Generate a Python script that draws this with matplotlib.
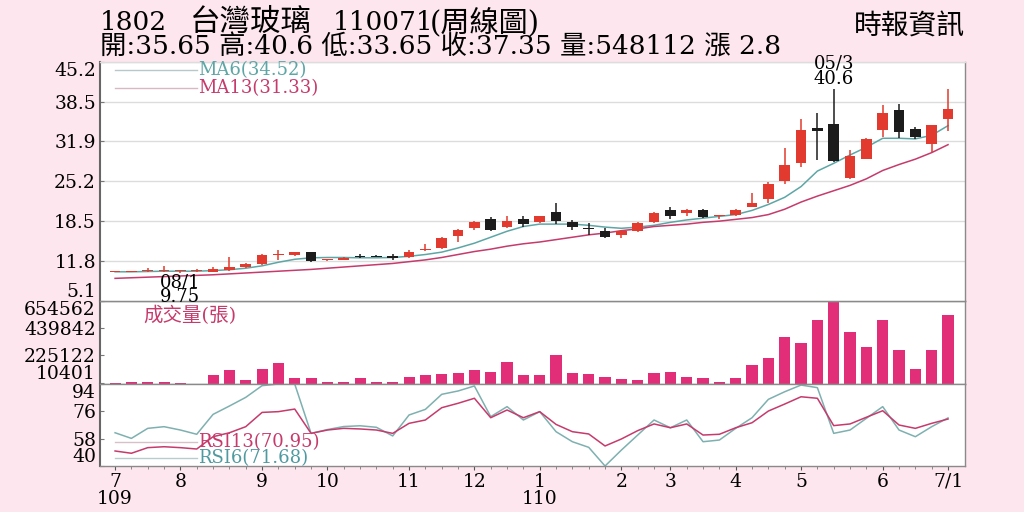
import numpy as np
import matplotlib.pyplot as plt

plt.rcParams['font.family'] = ['DejaVu Serif', 'Noto Sans CJK TC', 'DejaVu Sans']

# weekly candles, 2020/07 .. 2021/07/01
opens = [10.0, 10.0, 10.1, 10.2, 10.1, 10.1, 10.0, 10.3, 10.8, 11.3, 12.8, 12.8, 13.3,
         11.9, 12.0, 12.5, 12.6, 12.6, 12.5, 13.6, 14.0, 16.0, 17.3, 18.9, 17.5, 18.8,
         18.4, 20.0, 18.3, 17.4, 16.9, 16.1, 16.9, 18.4, 20.3, 19.8, 20.4, 19.3, 19.5,
         20.9, 22.2, 25.3, 28.2, 34.2, 34.8, 25.8, 29.0, 33.8, 37.1, 33.9, 31.5, 35.65]
highs = [10.2, 10.2, 10.6, 10.9, 10.3, 10.5, 10.8, 12.5, 11.5, 13.0, 13.7, 13.4, 13.4,
         12.2, 12.4, 13.0, 12.8, 13.0, 13.6, 14.6, 15.8, 17.1, 18.5, 19.2, 19.3, 19.4,
         19.4, 21.5, 18.7, 18.2, 17.4, 17.0, 18.4, 20.1, 20.9, 20.5, 20.6, 19.6, 20.6,
         23.3, 25.0, 30.7, 35.6, 36.7, 40.6, 30.5, 32.4, 38.0, 38.1, 34.3, 34.6, 40.6]
lows = [9.9, 9.9, 10.0, 10.0, 9.75, 9.9, 9.9, 10.1, 10.6, 11.1, 12.0, 12.7, 11.6,
        11.8, 11.9, 12.3, 12.4, 12.0, 12.3, 13.5, 13.9, 15.0, 17.0, 16.8, 17.3, 17.5,
        18.2, 18.1, 17.0, 16.1, 15.7, 15.7, 16.7, 18.2, 18.9, 19.4, 19.0, 18.9, 19.3,
        20.8, 21.5, 24.7, 27.5, 28.7, 28.5, 25.6, 28.9, 32.6, 32.4, 32.3, 30.1, 33.65]
closes = [10.05, 10.1, 10.3, 10.2, 10.1, 10.15, 10.4, 10.8, 11.3, 12.8, 12.85, 13.3, 11.8,
          12.1, 12.3, 12.45, 12.55, 12.3, 13.4, 13.9, 15.7, 17.0, 18.4, 17.0, 18.6, 18.1,
          19.3, 18.5, 17.6, 17.2, 15.8, 16.8, 18.2, 19.9, 19.4, 20.3, 19.2, 19.4, 20.3,
          21.5, 24.7, 27.9, 33.8, 33.7, 28.6, 29.5, 32.3, 36.7, 33.5, 32.6, 34.55, 37.35]
ma6 = [10.0, 10.0, 10.05, 10.1, 10.1, 10.1, 10.2, 10.35, 10.6, 11.0, 11.6, 12.1, 12.35,
       12.4, 12.4, 12.35, 12.35, 12.4, 12.6, 12.9, 13.3, 14.0, 14.8, 15.8, 16.8, 17.6,
       18.0, 18.0, 18.0, 17.8, 17.5, 17.3, 17.5, 17.8, 18.3, 18.7, 19.0, 19.3, 19.6,
       20.3, 21.3, 22.5, 24.3, 26.9, 28.2, 29.6, 30.9, 32.4, 32.4, 32.3, 32.9, 34.52]
ma13 = [8.9, 9.0, 9.1, 9.2, 9.3, 9.4, 9.5, 9.65, 9.8, 9.95, 10.1, 10.25, 10.4,
        10.6, 10.8, 11.0, 11.2, 11.4, 11.7, 12.0, 12.4, 12.9, 13.4, 13.8, 14.3, 14.7,
        15.0, 15.4, 15.8, 16.2, 16.5, 16.9, 17.2, 17.6, 17.8, 18.0, 18.3, 18.5, 18.8,
        19.1, 19.6, 20.5, 21.7, 22.7, 23.6, 24.5, 25.6, 27.0, 28.0, 28.9, 30.0, 31.33]
volume = [5000, 13000, 19000, 19000, 5000, 3000, 74000, 109000, 32000, 122000, 165000, 51000, 51000,
          13000, 13000, 51000, 13000, 19000, 53000, 69000, 77000, 90000, 112000, 96000, 175000, 69000,
          69000, 229000, 90000, 75000, 53000, 37000, 35000, 85000, 96000, 59000, 48000, 19000, 51000,
          152000, 205000, 373000, 322000, 508000, 654562, 413000, 293000, 503000, 266000, 120000, 266000, 548112]
rsi6 = [61.9, 58.2, 64.8, 65.9, 63.7, 60.9, 74.0, 79.5, 85.2, 92.9, 94.0, 94.0, 61.5,
        64.0, 66.0, 66.5, 65.5, 59.8, 73.6, 77.3, 87.2, 89.4, 92.7, 72.5, 79.1, 70.3,
        75.8, 62.6, 56.0, 52.3, 40.0, 50.5, 60.4, 70.3, 65.2, 70.3, 56.0, 57.1, 64.8,
        71.8, 83.9, 88.9, 93.3, 91.6, 61.5, 63.7, 71.4, 79.1, 63.7, 59.3, 65.9, 71.68]
rsi13 = [49.9, 48.4, 52.1, 52.7, 52.1, 51.2, 59.3, 61.9, 65.9, 75.3, 75.8, 77.5, 61.5,
         63.7, 64.8, 64.4, 63.7, 61.5, 68.1, 70.3, 78.4, 81.3, 84.6, 71.8, 76.9, 71.8,
         75.8, 67.4, 62.6, 61.1, 53.2, 57.8, 63.3, 67.7, 65.2, 67.7, 60.4, 60.9, 65.2,
         68.5, 76.2, 80.8, 85.6, 84.6, 66.6, 67.7, 72.1, 76.4, 67.0, 64.8, 68.1, 70.95]

month_idx = [0, 4, 9, 13, 18, 22, 26, 31, 34, 38, 42, 47, 51]
month_labels = ['7\n109', '8', '9', '10', '11', '12', '1\n110', '2', '3', '4', '5', '6', '7/1']
price_ticks = [5.1, 11.8, 18.5, 25.2, 31.9, 38.5, 45.2]
vol_ticks = [10401, 225122, 439842, 654562]
rsi_ticks = [40, 58, 76, 94]

RED = '#e23a2e'
BLACK = '#1c1c1c'
TEAL = '#5ea6a6'
CRIMSON = '#c63a6c'
VOLC = '#e22e78'
BG = '#fde6ee'

x = np.arange(len(closes))
o = np.array(opens); c = np.array(closes)
up = c >= o
cols = np.where(up, RED, BLACK)

fig = plt.figure(figsize=(10.24, 5.12), dpi=100, facecolor=BG)
L, W = 0.0977, 0.8447
ax1 = fig.add_axes([L, 0.4121, W, 0.4668])
ax2 = fig.add_axes([L, 0.2500, W, 0.1621], sharex=ax1)
ax3 = fig.add_axes([L, 0.0898, W, 0.1602], sharex=ax1)
ax1.set_zorder(3)

# price panel
ax1.vlines(x, lows, highs, colors=cols, lw=1.1, zorder=3)
ax1.bar(x, np.maximum(np.abs(c - o), 0.15), bottom=np.minimum(o, c), width=0.66,
        color=cols, zorder=4)
ax1.plot(x, ma6, color=TEAL, lw=1.1, zorder=2)
ax1.plot(x, ma13, color=CRIMSON, lw=1.1, zorder=2)
ax1.set_ylim(5.1, 45.2)
ax1.set_yticks(price_ticks)
ax1.set_yticklabels([f'{t}' for t in price_ticks])
ax1.grid(axis='y', color='#dcdcdc', lw=1)
ax1.set_axisbelow(True)

ax1.plot([0.017, 0.112], [0.967, 0.967], transform=ax1.transAxes, color='#b8c8c8', lw=1)
ax1.plot([0.017, 0.112], [0.891, 0.891], transform=ax1.transAxes, color='#d8b8c4', lw=1)
ax1.text(0.113, 0.967, 'MA6(34.52)', transform=ax1.transAxes, color=TEAL,
         fontsize=13, va='center', ha='left')
ax1.text(0.113, 0.891, 'MA13(31.33)', transform=ax1.transAxes, color=CRIMSON,
         fontsize=13, va='center', ha='left')

lo_i = int(np.argmin(lows))
ax1.annotate(f'08/1\n{lows[lo_i]}', (lo_i, lows[lo_i]), xytext=(0, 0),
             textcoords='offset points', ha='center', va='top', fontsize=13,
             linespacing=0.8, annotation_clip=False, clip_on=False, zorder=10)
hi_i = 44
ax1.annotate(f'05/3\n{highs[hi_i]}', (hi_i, highs[hi_i]), xytext=(0, 1),
             textcoords='offset points', ha='center', va='bottom', fontsize=13,
             linespacing=0.8)

# volume panel
ax2.bar(x, volume, width=0.68, color=VOLC)
ax2.set_ylim(0, 654562)
ax2.set_yticks(vol_ticks)
ax2.set_yticklabels([str(v) for v in vol_ticks])
ax2.text(0.05, 0.82, '成交量(張)', transform=ax2.transAxes, color=CRIMSON,
         fontsize=14, va='center', ha='left')

# rsi panel
ax3.plot(x, rsi6, color='#7fb0b0', lw=1.1)
ax3.plot(x, rsi13, color=CRIMSON, lw=1.1)
ax3.set_ylim(40, 94)
ax3.set_yticks(rsi_ticks)
ax3.set_yticklabels([str(t) for t in rsi_ticks])
ax3.plot([0.017, 0.112], [0.296, 0.296], transform=ax3.transAxes, color='#d8c0c8', lw=1)
ax3.plot([0.017, 0.112], [0.094, 0.094], transform=ax3.transAxes, color='#b8cccc', lw=1)
ax3.text(0.113, 0.296, 'RSI13(70.95)', transform=ax3.transAxes, color=CRIMSON,
         fontsize=13, va='center', ha='left')
ax3.text(0.113, 0.094, 'RSI6(71.68)', transform=ax3.transAxes, color='#4f9aa0',
         fontsize=13, va='center', ha='left')

ax3.set_xlim(-0.92, 52.04)
ax3.set_xticks(month_idx)
ax3.set_xticklabels(month_labels, fontsize=13.5, linespacing=0.95)
ax3.set_xticks(x, minor=True)
ax3.tick_params(axis='x', which='minor', length=2, color='#777777')
ax3.tick_params(axis='x', which='major', length=3, color='#555555', pad=2)

for ax in (ax1, ax2, ax3):
    ax.set_facecolor('white')
    ax.tick_params(axis='y', direction='in', length=3, labelsize=13.5, pad=3,
                   color='#777777')
    for s in ax.spines.values():
        s.set_color('#8a8a8a')
        s.set_linewidth(1)
    ax.spines['left'].set_color('#666666')
    ax.spines['left'].set_linewidth(1.5)
    labels = ax.get_yticklabels()
    labels[0].set_va('bottom')
    labels[-1].set_va('top')
ax1.spines['top'].set_color('#dddddd')
ax1.tick_params(axis='x', which='both', bottom=False, labelbottom=False)
ax2.tick_params(axis='x', which='both', bottom=False, labelbottom=False)

# header
fig.text(100 / 1024, 0.957, '1802', fontsize=19, va='center', ha='left')
fig.text(190 / 1024, 0.957, '台灣玻璃', fontsize=22, va='center', ha='left')
fig.text(333 / 1024, 0.957, '110071', fontsize=19, va='center', ha='left')
fig.text(430 / 1024, 0.957, '(周線圖)', fontsize=21, va='center', ha='left')
fig.text(100 / 1024, 0.908, '開:35.65 高:40.6 低:33.65 收:37.35 量:548112 漲 2.8',
         fontsize=19, va='center', ha='left')
fig.text(0.942, 0.947, '時報資訊', fontsize=20, va='center', ha='right')

fig.savefig('out.png', dpi=100, facecolor=BG)
